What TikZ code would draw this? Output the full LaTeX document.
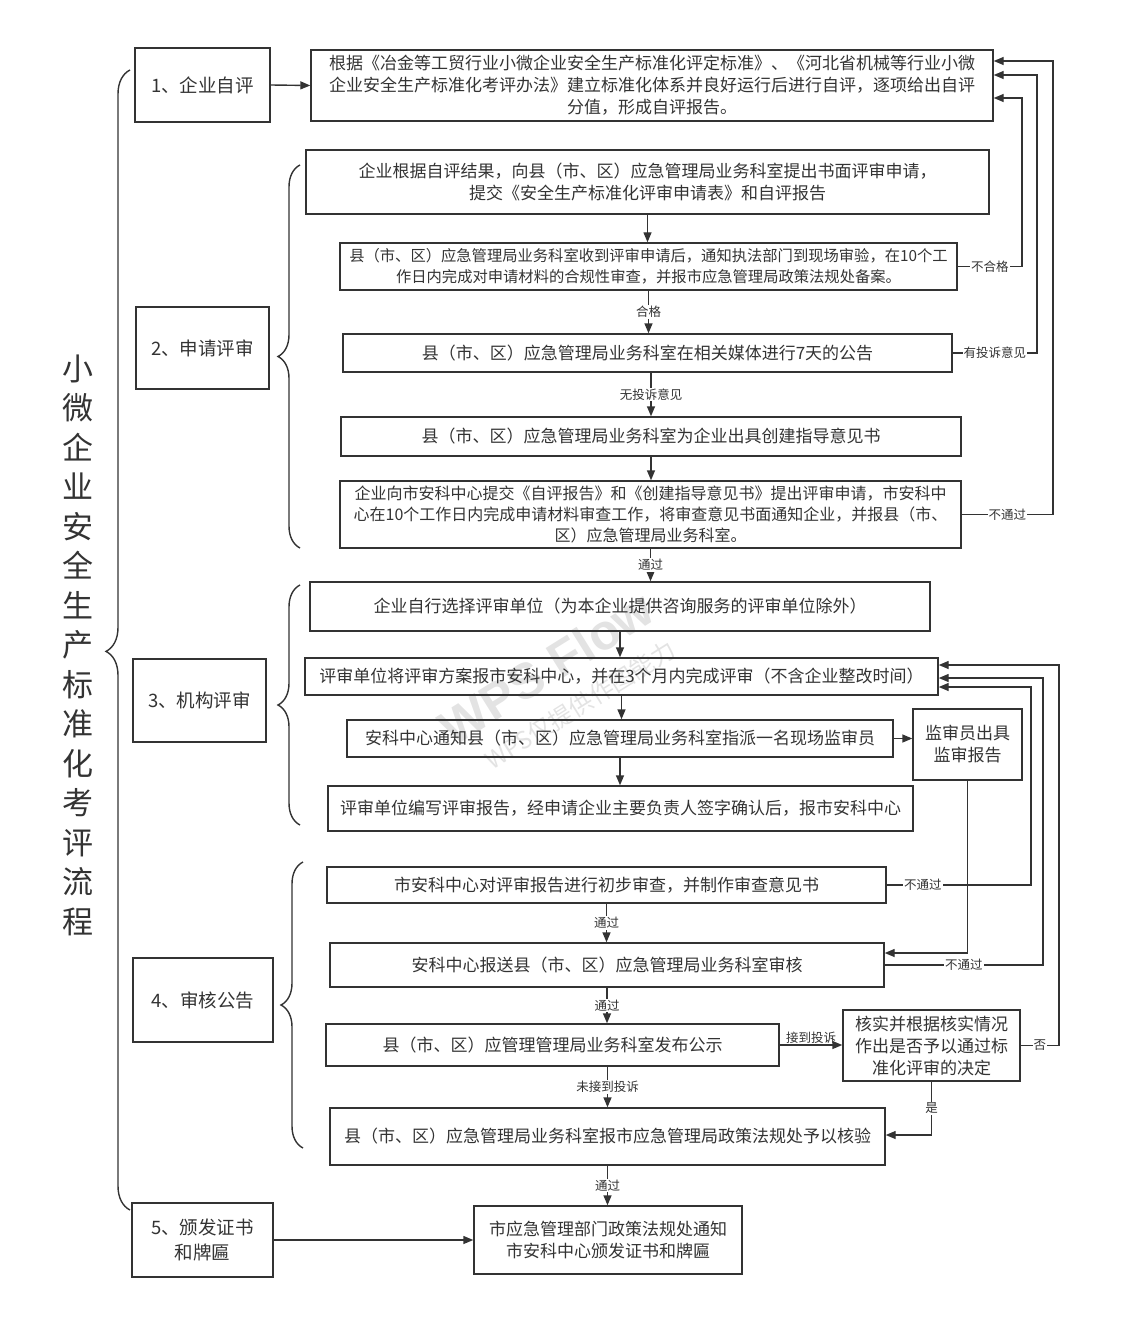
\documentclass[tikz,border=0pt]{standalone}
\usepackage{fontspec}
\setmainfont{Noto Sans CJK SC}
\newfontfamily\wmfont{Liberation Sans}
\usetikzlibrary{arrows.meta,decorations.pathreplacing,calc}
\definecolor{linec}{HTML}{333333}
\tikzset{
  box/.style={draw=linec, line width=1.4pt, align=center, inner sep=2pt, text=linec,
    font=\fontsize{17}{22}\selectfont},
  stage/.style={box, font=\fontsize{18.5}{25}\selectfont},
  arr/.style={draw=linec, line width=1.4pt, -{Triangle[length=10pt,width=8pt]}},
  lbl/.style={fill=white, inner sep=1pt, text=linec, font=\fontsize{12.5}{14}\selectfont},
  brc/.style={draw=linec, line width=1.4pt, decorate, decoration={brace, amplitude=22pt}},
}
\begin{document}
\begin{tikzpicture}[x=1pt, y=-1pt]
  \useasboundingbox (0,0) rectangle (1120,1340);

  % Watermark
  \node[rotate=32, text=black!11, font=\wmfont\bfseries\fontsize{50}{50}\selectfont] (wm) at (546,668) {WPS Flow};
  \node[rotate=32, text=black!11, font=\fontsize{24}{24}\selectfont] (wmb) at (580,705) {WPS仅提供作图能力};

  % Title and main brace
  \node[align=center, text=linec, font=\fontsize{31}{39.5}\selectfont] (ttl) at (78,645)
    {小\\微\\企\\业\\安\\全\\生\\产\\标\\准\\化\\考\\评\\流\\程};
  \draw[brc, decoration={brace, amplitude=24pt, aspect=0.49}] (130,1210) -- (130,70);

  % Stages
  \node[stage, minimum width=135pt, minimum height=74pt] (stg1) at (202.5,85) {1、企业自评};
  \node[stage, minimum width=133pt, minimum height=82pt] (stg2) at (202.5,348) {2、申请评审};
  \node[stage, minimum width=133pt, minimum height=83pt] (stg3) at (199.5,700.5) {3、机构评审};
  \node[stage, minimum width=140pt, minimum height=84pt] (stg4) at (203,1000) {4、审核公告};
  \node[stage, minimum width=141pt, minimum height=74pt] (stg5) at (202.5,1240) {5、颁发证书\\和牌匾};

  % Stage braces
  \draw[brc] (300,548) -- (300,165);
  \draw[brc] (300,825) -- (300,585);
  \draw[brc] (303,1148) -- (303,862);

  % 1: self evaluation
  \node[box, minimum width=682pt, minimum height=71pt] (A1) at (652,85.5)
    {根据《冶金等工贸行业小微企业安全生产标准化评定标准》、《河北省机械等行业小微\\企业安全生产标准化考评办法》建立标准化体系并良好运行后进行自评，逐项给出自评\\分值，形成自评报告。};

  % 2: application
  \node[box, minimum width=683pt, minimum height=64pt] (B1) at (647.5,182)
    {企业根据自评结果，向县（市、区）应急管理局业务科室提出书面评审申请，\\提交《安全生产标准化评审申请表》和自评报告};
  \node[box, minimum width=617pt, minimum height=47pt, font=\fontsize{15.3}{21}\selectfont] (B2) at (648.5,266.5)
    {县（市、区）应急管理局业务科室收到评审申请后，通知执法部门到现场审验，在10个工\\作日内完成对申请材料的合规性审查，并报市应急管理局政策法规处备案。};
  \node[box, minimum width=609pt, minimum height=38pt] (B3) at (647.5,353)
    {县（市、区）应急管理局业务科室在相关媒体进行7天的公告};
  \node[box, minimum width=620pt, minimum height=39pt] (B4) at (651,436.5)
    {县（市、区）应急管理局业务科室为企业出具创建指导意见书};
  \node[box, minimum width=621pt, minimum height=67pt, font=\fontsize{16}{21}\selectfont] (B5) at (650.5,514.5)
    {企业向市安科中心提交《自评报告》和《创建指导意见书》提出评审申请，市安科中\\心在10个工作日内完成申请材料审查工作，将审查意见书面通知企业，并报县（市、\\区）应急管理局业务科室。};

  % 3: agency review
  \node[box, minimum width=620pt, minimum height=49pt] (C1) at (620,606.5)
    {企业自行选择评审单位（为本企业提供咨询服务的评审单位除外）};
  \node[box, minimum width=633pt, minimum height=37pt] (C2) at (621.5,676.5)
    {评审单位将评审方案报市安科中心，并在3个月内完成评审（不含企业整改时间）};
  \node[box, minimum width=546pt, minimum height=37pt] (C3) at (620,738.5)
    {安科中心通知县（市、区）应急管理局业务科室指派一名现场监审员};
  \node[box, minimum width=109pt, minimum height=71pt] (C3b) at (967.5,744.5)
    {监审员出具\\监审报告};
  \node[box, minimum width=585pt, minimum height=45pt] (C4) at (620.5,808.5)
    {评审单位编写评审报告，经申请企业主要负责人签字确认后，报市安科中心};

  % 4: audit and publicity
  \node[box, minimum width=559pt, minimum height=36pt] (D1) at (606.5,885)
    {市安科中心对评审报告进行初步审查，并制作审查意见书};
  \node[box, minimum width=554pt, minimum height=44pt] (D2) at (607,965)
    {安科中心报送县（市、区）应急管理局业务科室审核};
  \node[box, minimum width=453pt, minimum height=42pt] (D3) at (552.5,1045)
    {县（市、区）应管理管理局业务科室发布公示};
  \node[box, minimum width=177pt, minimum height=71pt] (D3b) at (931.5,1045.5)
    {核实并根据核实情况\\作出是否予以通过标\\准化评审的决定};
  \node[box, minimum width=555pt, minimum height=57pt] (D4) at (607.5,1136.5)
    {县（市、区）应急管理局业务科室报市应急管理局政策法规处予以核验};

  % 5: certificate
  \node[box, minimum width=268pt, minimum height=68pt] (E1) at (608,1240)
    {市应急管理部门政策法规处通知\\市安科中心颁发证书和牌匾};

  % Main flow
  \draw[arr] (stg1.east) -- (A1.west);
  \draw[arr] (B1.south) -- (B1.south |- B2.north);
  \draw[arr] (B2.south) -- node[lbl] {合格} (B2.south |- B3.north);
  \draw[arr] (B4.north |- B3.south) -- node[lbl] {无投诉意见} (B4.north);
  \draw[arr] (B4.south) -- (B4.south |- B5.north);
  \draw[arr] (B5.south) -- node[lbl] {通过} (B5.south |- C1.north);
  \draw[arr] (C1.south) -- (C1.south |- C2.north);
  \draw[arr] (C2.south) -- (C2.south |- C3.north);
  \draw[arr] (C3.south) -- (C3.south |- C4.north);
  \draw[arr] (C3.east) -- (C3.east -| C3b.west);
  \draw[arr] (D1.south) -- node[lbl] {通过} (D1.south |- D2.north);
  \draw[arr] (D2.south) -- node[lbl] {通过} (D2.south |- D3.north);
  \draw[arr] (D3.south -| D4.north) -- node[lbl] {未接到投诉} (D4.north);
  \draw[arr] (D3.east) -- node[lbl, above, fill=none] {接到投诉} (D3.east -| D3b.west);
  \draw[arr] (D3b.south) |- node[lbl, pos=0.25] {是} ([yshift=1.5pt]D4.east);
  \draw[arr] (D4.south) -- node[lbl] {通过} (D4.south |- E1.north);
  \draw[arr] (stg5.east) -- (E1.west);

  % Feedback to self evaluation
  \coordinate (xa) at (1022,0);
  \coordinate (xb) at (1037,0);
  \coordinate (xc) at (1053,0);
  \draw[arr] (B2.east) -- node[lbl] {不合格} (B2.east -| xa) |- ([yshift=-12.5pt]A1.east);
  \draw[arr] (B3.east) -- node[lbl] {有投诉意见} (B3.east -| xb) |- ([yshift=10.5pt]A1.east);
  \draw[arr] (B5.east) -- node[lbl] {不通过} (B5.east -| xc) |- ([yshift=24.5pt]A1.east);

  % Feedback to review
  \coordinate (xd) at (1031,0);
  \coordinate (xe) at (1043,0);
  \coordinate (xf) at (1059,0);
  \draw[arr] (C3b.south) |- ([yshift=12pt]D2.east);
  \draw[arr] (D1.east) -- node[lbl, pos=0.25] {不通过} (D1.east -| xd) |- ([yshift=-10.5pt]C2.east);
  \draw[arr] (D2.east) -- node[lbl] {不通过} (D2.east -| xe) |- ([yshift=-1.5pt]C2.east);
  \draw[arr] (D3b.east) -- node[lbl] {否} (D3b.east -| xf) |- ([yshift=11.5pt]C2.east);
\end{tikzpicture}
\end{document}
